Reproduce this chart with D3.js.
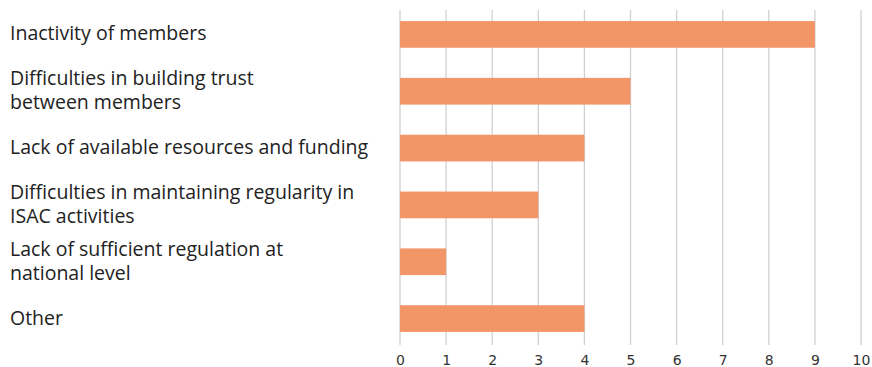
<!DOCTYPE html>
<html>
<head>
<meta charset="utf-8">
<script src="https://cdn.jsdelivr.net/npm/d3@7"></script>
<style>
  html, body { margin: 0; padding: 0; background: #fff; }
  svg { display: block; }
</style>
</head>
<body>
<svg id="chart" width="872" height="367"></svg>
<script>
// Challenges reported, count of responses per category
const categories = [
  ["Inactivity of members"],
  ["Difficulties in building trust", "between members"],
  ["Lack of available resources and funding"],
  ["Difficulties in maintaining regularity in", "ISAC activities"],
  ["Lack of sufficient regulation at", "national level"],
  ["Other"]
];
const values = [9, 5, 4, 3, 1, 4];
const tickValues = [0, 1, 2, 3, 4, 5, 6, 7, 8, 9, 10];

const svg = d3.select("#chart");
const x0 = 400, x1 = 861, yTop = 6, yBottom = 347;

const x = d3.scaleLinear().domain([0, 10]).range([x0, x1]);
const y = d3.scaleBand()
  .domain(d3.range(categories.length))
  .range([yTop, yBottom])
  .paddingInner(0.53)
  .paddingOuter(0.265);

// vertical gridlines
svg.append("g")
  .selectAll("line")
  .data(tickValues)
  .join("line")
  .attr("x1", d => x(d)).attr("x2", d => x(d))
  .attr("y1", 10).attr("y2", 345)
  .attr("stroke", "#d0d0d0")
  .attr("stroke-width", 1.3);

// bars
svg.append("g")
  .selectAll("rect")
  .data(values)
  .join("rect")
  .attr("x", x(0))
  .attr("y", (d, i) => y(i))
  .attr("width", d => x(d) - x(0))
  .attr("height", y.bandwidth())
  .attr("fill", "#F29668");

// x axis tick labels
const axis = d3.axisBottom(x).tickValues(tickValues).tickSize(0).tickPadding(0);
const ax = svg.append("g")
  .attr("transform", "translate(0,355)")
  .call(axis);
ax.select(".domain").remove();
ax.selectAll("text")
  .attr("font-family", "'DejaVu Sans', Verdana, sans-serif")
  .attr("font-size", 14)
  .attr("fill", "#333")
  .attr("dy", "0.71em");

// category labels, left aligned, each line centred as a block on its bar
const lineH = 24;
const labelLines = categories.flatMap((lines, i) =>
  lines.map((text, k) => ({ text, i, k, n: lines.length })));
svg.append("g")
  .selectAll("text")
  .data(labelLines)
  .join("text")
  .attr("x", 10)
  .attr("y", d => y(d.i) + y.bandwidth() / 2 + 6 - (d.n - 1) * lineH / 2 + d.k * lineH)
  .attr("font-family", "'Open Sans', sans-serif")
  .attr("font-size", 19.5)
  .attr("fill", "#222")
  .text(d => d.text);
</script>
</body>
</html>
